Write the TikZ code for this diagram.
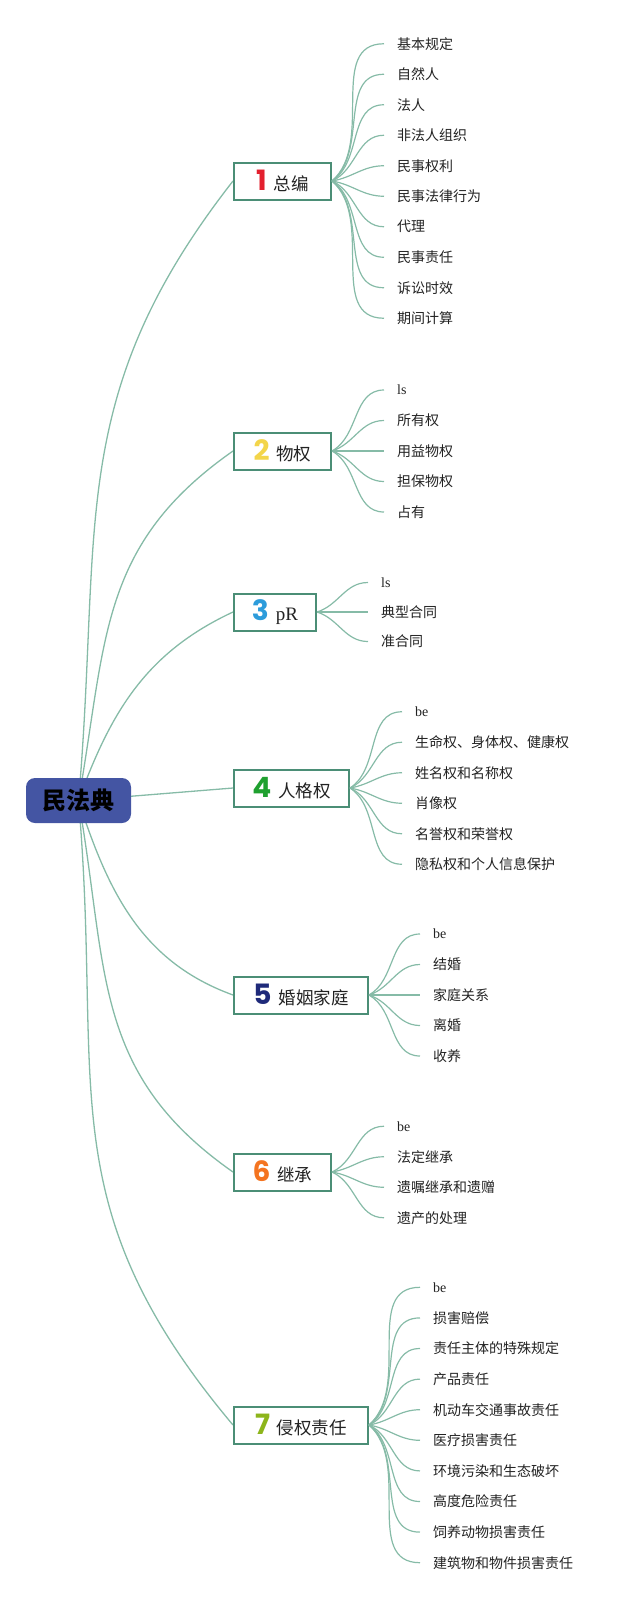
\documentclass[tikz,border=0pt]{standalone}
\usepackage{fontspec}
\setmainfont{Liberation Serif}
\newfontfamily\cjk{Noto Sans CJK SC}
\newfontfamily\numfont{Poppins}
\usetikzlibrary{backgrounds}
\definecolor{rootblue}{HTML}{4455A3}
\definecolor{frame}{HTML}{4B8E76}
\definecolor{wire}{HTML}{86BBA7}
\definecolor{txt}{HTML}{222222}
\definecolor{numone}{HTML}{E3202E}
\definecolor{numtwo}{HTML}{F3D54A}
\definecolor{numthree}{HTML}{2D9CDB}
\definecolor{numfour}{HTML}{1FA02F}
\definecolor{numfive}{HTML}{1F2A7A}
\definecolor{numsix}{HTML}{F47420}
\definecolor{numseven}{HTML}{8DB51B}
\newcommand\partno[2]{{\numfont\bfseries\fontsize{28}{28}\selectfont\color{#1}#2}\hspace{7pt}}

\tikzset{
  rootbox/.style={fill=rootblue,rounded corners=9pt,minimum width=105pt,minimum height=45pt,
    font=\cjk\bfseries\fontsize{24}{26}\selectfont,text=black},
  part/.style={draw=frame,line width=2pt,fill=white,anchor=west,minimum height=37pt,
    inner xsep=0pt,font=\cjk\fontsize{17.5}{20}\selectfont,text=txt},
  leaf/.style={anchor=west,inner xsep=13pt,inner ysep=2pt,font=\cjk\fontsize{14}{16}\selectfont,text=txt},
  trunk/.style={wire,line width=1.3pt},
  twig/.style={wire,line width=1.2pt},
}

\begin{document}
\begin{tikzpicture}[x=1pt,y=1pt]
  \useasboundingbox (0,0) rectangle (640,-1604);

  % centre
  \node[rootbox] (root) at (78.5,-800.5) {民法典};

  % parts
  \node[part,minimum width=97pt]  (b1) at (233,-181)  {\partno{numone}{1}总编};
  \node[part,minimum width=97pt]  (b2) at (233,-451)  {\partno{numtwo}{2}物权};
  \node[part,minimum width=82pt]  (b3) at (233,-612)  {\partno{numthree}{3}{\rmfamily\fontsize{19}{20}\selectfont pR}};
  \node[part,minimum width=115pt] (b4) at (233,-788)  {\partno{numfour}{4}人格权};
  \node[part,minimum width=134pt] (b5) at (233,-995)  {\partno{numfive}{5}婚姻家庭};
  \node[part,minimum width=97pt]  (b6) at (233,-1172) {\partno{numsix}{6}继承};
  \node[part,minimum width=134pt] (b7) at (233,-1425) {\partno{numseven}{7}侵权责任};

  % trunk lines
  \begin{scope}[on background layer]
    \draw[trunk] (root.center) to[out=85,in=232,looseness=1.1] (b1.west);
    \draw[trunk] (root.center) to[out=80,in=215,looseness=1.1] (b2.west);
    \draw[trunk] (root.center) to[out=70,in=205] (b3.west);
    \draw[trunk] (root.center) -- (b4.west);
    \draw[trunk] (root.center) to[out=-72,in=160] (b5.west);
    \draw[trunk] (root.center) to[out=-80,in=145,looseness=1.1] (b6.west);
    \draw[trunk] (root.center) to[out=-85,in=130,looseness=1.15] (b7.west);
  \end{scope}

  % 1
  \foreach \t [count=\i] in {基本规定,自然人,法人,非法人组织,民事权利,民事法律行为,代理,民事责任,诉讼时效,期间计算}{
    \pgfmathsetmacro\dy{(5.5-\i)*30.5}
    \pgfmathsetmacro\ang{0.6*atan2(\dy,54)}
    \node[leaf] (b1l\i) at (384,-181+\dy) {\t};
    \draw[twig] (b1.east) to[out=\ang,in=180] (b1l\i.west);
  }
  % 2
  \foreach \t [count=\i] in {{\rmfamily ls},所有权,用益物权,担保物权,占有}{
    \pgfmathsetmacro\dy{(3-\i)*30.5}
    \pgfmathsetmacro\ang{0.6*atan2(\dy,54)}
    \node[leaf] (b2l\i) at (384,-451+\dy) {\t};
    \draw[twig] (b2.east) to[out=\ang,in=180] (b2l\i.west);
  }
  % 3
  \foreach \t [count=\i] in {{\rmfamily ls},典型合同,准合同}{
    \pgfmathsetmacro\dy{(2-\i)*29.5}
    \pgfmathsetmacro\ang{0.6*atan2(\dy,53)}
    \node[leaf] (b3l\i) at (368,-612+\dy) {\t};
    \draw[twig] (b3.east) to[out=\ang,in=180] (b3l\i.west);
  }
  % 4
  \foreach \t [count=\i] in {{\rmfamily be},生命权、身体权、健康权,姓名权和名称权,肖像权,名誉权和荣誉权,隐私权和个人信息保护}{
    \pgfmathsetmacro\dy{(3.5-\i)*30.5}
    \pgfmathsetmacro\ang{0.6*atan2(\dy,54)}
    \node[leaf] (b4l\i) at (402,-788+\dy) {\t};
    \draw[twig] (b4.east) to[out=\ang,in=180] (b4l\i.west);
  }
  % 5
  \foreach \t [count=\i] in {{\rmfamily be},结婚,家庭关系,离婚,收养}{
    \pgfmathsetmacro\dy{(3-\i)*30.5}
    \pgfmathsetmacro\ang{0.6*atan2(\dy,53)}
    \node[leaf] (b5l\i) at (420,-995+\dy) {\t};
    \draw[twig] (b5.east) to[out=\ang,in=180] (b5l\i.west);
  }
  % 6
  \foreach \t [count=\i] in {{\rmfamily be},法定继承,遗嘱继承和遗赠,遗产的处理}{
    \pgfmathsetmacro\dy{(2.5-\i)*30.5}
    \pgfmathsetmacro\ang{0.6*atan2(\dy,54)}
    \node[leaf] (b6l\i) at (384,-1172+\dy) {\t};
    \draw[twig] (b6.east) to[out=\ang,in=180] (b6l\i.west);
  }
  % 7
  \foreach \t [count=\i] in {{\rmfamily be},损害赔偿,责任主体的特殊规定,产品责任,机动车交通事故责任,医疗损害责任,环境污染和生态破坏,高度危险责任,饲养动物损害责任,建筑物和物件损害责任}{
    \pgfmathsetmacro\dy{(5.5-\i)*30.6}
    \pgfmathsetmacro\ang{0.6*atan2(\dy,53)}
    \node[leaf] (b7l\i) at (420,-1425+\dy) {\t};
    \draw[twig] (b7.east) to[out=\ang,in=180] (b7l\i.west);
  }
\end{tikzpicture}
\end{document}
